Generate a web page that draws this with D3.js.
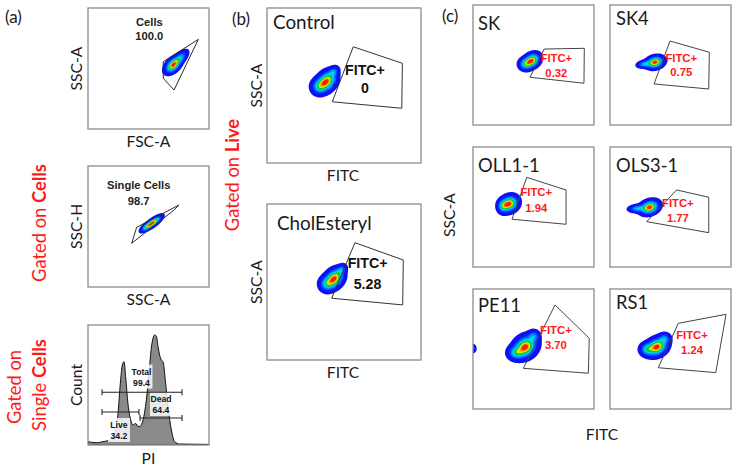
<!DOCTYPE html>
<html><head><meta charset="utf-8">
<script src="https://cdn.jsdelivr.net/npm/d3@7"></script>
<style>body{margin:0;background:#fff}svg{display:block}</style>
</head><body>
<svg id="chart" width="734" height="468"></svg>
<script>
// ====================== DATA ======================
const panelLetters = ["(a)", "(b)", "(c)"];

// (a) gating hierarchy — scatter plots (axis units 0..100)
const gatingNames  = ["Cells", "Single Cells"];
const gatingValues = ["100.0", "98.7"];
const gatingXLabels = ["FSC-A", "SSC-A"];
const gatingYLabels = ["SSC-A", "SSC-H"];
const gatingGates = [
  [[91.2,74.1],[62.2,55.6],[62.2,41.9],[71.1,32.2]],
  [[36.1,36.1],[40.2,49.3],[75.2,67.8],[71.1,63.6]]
];
// population components: [cx, cy, sdAlong, sdAcross, angleDeg, weight]
const gatingPops = [
  [[70,53,4.2,2.6,45,1],[76,59,4.2,2.1,45,0.45]],
  [[53.5,53.5,4.5,1.6,37,1],[48,50,3.2,1.4,37,0.5]]
];
const gatingLabelAt = [[50.7,85.1,73.8],[41.9,80.7,68]];

// (a) PI histogram
const piValues  = [0,6.9,12.4,17.9,22,24.8,26.7,28.4,29.8,31.1,33,35.3,37.2,39.4,41.3,43.3,45.5,48.2,50.4,52.3,53.7,55.1,56.5,57.9,59.2,60.6,62,63.9,66.1,68.9,71.6,75.8,100];
const piCounts  = [2.8,1.9,2.8,4.2,9.7,26,51,66.7,69.4,57,34.7,20.8,16.7,18,15.3,15.8,20.8,37.5,59.7,80.6,88.9,91.7,90.8,81.9,75,70.8,69.4,54,32,12.5,2.8,0.8,0.5];
const histGateNames  = ["Total", "Dead", "Live"];
const histGateValues = ["99.4", "64.4", "34.2"];
const histGateRanges = [[11.6,77.7],[43,77.7],[11.6,42.1]];
const histGateLevels = [44, 22.5, 27.5];
const histLabelAt    = [[44.2,57],[60.3,34.2],[25.6,12.5]];

// (b) Control vs CholEsteryl
const bSamples = ["Control", "CholEsteryl"];
const bFitcPos = ["0", "5.28"];
const bGates = [
  [[56.0,75.0],[87.9,64.3],[87.5,35.3],[42.4,39.5]],
  [[57.1,75.2],[88.5,64.1],[88.1,35.3],[42.0,39.6]]
];
const bPops = [
  [[38.5,53,3.9,3.0,50,1],[33.5,49.5,2.8,2.8,0,0.5],[43,59,2.2,1.7,50,0.35]],
  [[43.5,52.5,3.7,2.9,50,1],[38.5,49,2.7,2.7,0,0.5],[48,58,2.2,1.6,50,0.35]]
];
const bLabelAt = [[63.6,57,45.2],[65.3,58.8,45.5]];

// (c) strains
const cSamples = ["SK", "SK4", "OLL1-1", "OLS3-1", "PE11", "RS1"];
const cFitcPos = ["0.32", "0.75", "1.94", "1.77", "3.70", "1.24"];
const cGates = [
  [[58.9,63.3],[92.0,63.9],[91.7,34.8],[47.1,39.8]],
  [[49.6,70],[82.1,60.6],[81.6,30],[36.4,34.2]],
  [[44.4,74.7],[76.9,64.2],[76.9,35.6],[32.2,39.8]],
  [[55.1,64.2],[81.6,58.1],[81.6,28.6],[30.3,37.8]],
  [[67.8,86.7],[96.1,58.9],[95.3,29.8],[41.6,33.9]],
  [[56.4,71.4],[95.9,78.9],[87.4,30.3],[39.9,34.4]]
];
const cPops = [
  [[48.5,54,3.9,3.0,35,1],[43,51,3.0,2.8,0,0.55]],
  [[37,52.5,3.9,2.7,15,1],[28,51,3.2,1.6,10,0.45]],
  [[30,53,4.1,3.5,35,1],[24.5,51,2.6,3.2,0,0.5]],
  [[32.5,50,4.3,3.0,20,1],[22,49,3.7,1.7,5,0.45]],
  [[43,52,5.5,4.5,40,1],[35,47,3.7,3.2,0,0.45],[50,61,2.7,2.7,0,0.35],[0,50.6,1.3,1.8,0,0.3]],
  [[38.5,52,4.9,3.8,30,1],[30,50,3.2,3.0,0,0.45],[45,59,2.7,2.5,0,0.35]]
];
const cLabelAt = [[68.9,52.2,40.3],[58.9,52.8,40.8],[52.3,59.4,46.1],[56.1,50.3,37.8],[68.5,62.2,49.7],[67.8,58.3,45.8]];

// side notes
const sideNotes = [["Gated on ", "Cells"], ["Gated on ", "Live"]];
const sideNoteTwoLine = ["Gated on", "Single ", "Cells"];

// density colour levels (fraction of peak)
const densityLevels = [0.03, 0.2, 0.32, 0.45, 0.58, 0.72, 0.82, 0.9];
const densityColors = ["#1010f5", "#0050ff", "#0096ff", "#00d6e6", "#00cc33", "#d4f000", "#ffa000", "#ff1a00"];

// ====================== LAYOUT ======================
const svg = d3.select("#chart");
const SANS = "Lato, 'Open Sans', sans-serif";
const ARIAL = "'Liberation Sans', Arial, sans-serif";

// Calibri-like sizing factor
const probe = svg.append("text").attr("font-family", SANS).attr("font-size", 100).text("SSC-A Control Count");
const kf = 825.8 / probe.node().getComputedTextLength();
probe.remove();
const fs = s => (s * kf * 1.03).toFixed(2);

const boxesA = [{x:88,y:8,w:121,h:121},{x:88,y:166,w:121,h:121},{x:88,y:325,w:121,h:120}];
const boxesB = [{x:267,y:8,w:154,h:155},{x:267,y:204,w:154,h:156}];
const boxesC = [{x:473,y:5},{x:610,y:5},{x:473,y:147},{x:610,y:147},{x:473,y:289},{x:610,y:289}].map(b=>({...b,w:121,h:120}));

let clipN = 0;
function frame(b) {
  const id = "clip" + (clipN++);
  svg.append("clipPath").attr("id", id).append("rect").attr("x", b.x).attr("y", b.y).attr("width", b.w).attr("height", b.h);
  const g = svg.append("g");
  const inner = g.append("g").attr("clip-path", `url(#${id})`);
  const x = d3.scaleLinear().domain([0,100]).range([b.x, b.x + b.w]);
  const y = d3.scaleLinear().domain([0,100]).range([b.y + b.h, b.y]);
  return {g, inner, x, y, b};
}
function border(f) {
  f.g.append("rect").attr("x", f.b.x).attr("y", f.b.y).attr("width", f.b.w).attr("height", f.b.h)
    .attr("fill", "none").attr("stroke", "#8c8c8c").attr("stroke-width", 1.3);
}
function population(f, comps) {
  const step = 0.5, x0 = -10, x1 = 110, y0 = -10, y1 = 110;
  const nx = Math.round((x1 - x0) / step), ny = Math.round((y1 - y0) / step);
  const vals = new Float64Array(nx * ny);
  const pre = comps.map(([cx, cy, sx, sy, a, w]) => { const r = a * Math.PI / 180; return {cx, cy, sx, sy, c: Math.cos(r), s: Math.sin(r), w}; });
  let max = 0;
  for (let j = 0; j < ny; j++) {
    const yy = y1 - j * step;
    for (let i = 0; i < nx; i++) {
      const xx = x0 + i * step;
      let v = 0;
      for (const p of pre) {
        const dx = xx - p.cx, dy = yy - p.cy;
        const u = (dx * p.c + dy * p.s) / p.sx, t = (-dx * p.s + dy * p.c) / p.sy;
        v += p.w * Math.exp(-0.5 * (u * u + t * t));
      }
      vals[j * nx + i] = v;
      if (v > max) max = v;
    }
  }
  const contours = d3.contours().size([nx, ny]).thresholds(densityLevels.map(l => l * max))(vals);
  const proj = d3.geoTransform({ point(px, py) { this.stream.point(f.x(x0 + px * step), f.y(y1 - py * step)); } });
  const path = d3.geoPath(proj);
  f.inner.append("g").selectAll("path").data(contours).join("path")
    .attr("d", path).attr("fill", (d, i) => densityColors[i]);
}
function gate(f, pts, color) {
  f.inner.append("path").datum(pts)
    .attr("d", d3.line().x(d => f.x(d[0])).y(d => f.y(d[1])).curve(d3.curveLinearClosed))
    .attr("fill", "none").attr("stroke", color || "#333").attr("stroke-width", 1);
}
function gateLabel(f, at, name, value, size, color) {
  [name, value].forEach((t, i) => {
    f.g.append("text").attr("x", f.x(at[0])).attr("y", f.y(at[1 + i]))
      .attr("text-anchor", "middle").attr("font-family", ARIAL).attr("font-weight", "bold")
      .attr("font-size", size).attr("fill", color).text(t);
  });
}
function text(x, y, t, size, opts = {}) {
  const el = svg.append("text").attr("x", x).attr("y", y).attr("font-family", SANS)
    .attr("font-size", fs(size)).attr("fill", opts.fill || "#1a1a1a")
    .attr("text-anchor", opts.anchor || "start").text(t);
  if (opts.rotate) el.attr("transform", `rotate(-90,${x},${y})`);
  return el;
}

// ---------- Panel letters ----------
text(5, 23, panelLetters[0], 18.5);
text(232, 25, panelLetters[1], 18.5);
text(442, 22, panelLetters[2], 18.5);

// ---------- Panel (a) scatter ----------
gatingNames.forEach((name, i) => {
  const f = frame(boxesA[i]);
  population(f, gatingPops[i]);
  gate(f, gatingGates[i], "#2a2a2a");
  border(f);
  gateLabel(f, gatingLabelAt[i], name, gatingValues[i], 11.2, "#222");
  text(f.b.x + f.b.w / 2, f.b.y + f.b.h + 18, gatingXLabels[i], 17, {anchor: "middle"});
  text(f.b.x - 6, f.b.y + f.b.h / 2, gatingYLabels[i], 17, {anchor: "middle", rotate: true});
});

// ---------- Panel (a) histogram ----------
{
  const f = frame(boxesA[2]);
  const area = d3.area().x((d, i) => f.x(piValues[i])).y0(f.y(0)).y1(d => f.y(d)).curve(d3.curveMonotoneX);
  f.inner.append("path").datum(piCounts).attr("d", area).attr("fill", "#8a8a8a").attr("stroke", "#111").attr("stroke-width", 1);
  histGateNames.forEach((n, i) => {
    const at = histLabelAt[i];
    const cx = f.x(at[0]), cy = f.y(at[1]);
    f.inner.append("rect").attr("x", cx - 11).attr("y", cy - 12).attr("width", 22).attr("height", 24)
      .attr("fill", "#fff").attr("opacity", 0.82);
    [n, histGateValues[i]].forEach((t, k) => {
      f.g.append("text").attr("x", cx).attr("y", cy - 2 + k * 11).attr("text-anchor", "middle")
        .attr("font-family", ARIAL).attr("font-weight", "bold").attr("font-size", 8.6).attr("fill", "#111").text(t);
    });
  });
  histGateRanges.forEach((r, i) => {
    const yy = f.y(histGateLevels[i]);
    const gg = f.g.append("g").attr("stroke", "#222").attr("stroke-width", 1.1);
    gg.append("line").attr("x1", f.x(r[0])).attr("x2", f.x(r[1])).attr("y1", yy).attr("y2", yy);
    r.forEach(v => gg.append("line").attr("x1", f.x(v)).attr("x2", f.x(v)).attr("y1", yy - 3).attr("y2", yy + 3));
  });
  border(f);
  text(f.b.x + f.b.w / 2, f.b.y + f.b.h + 19, "PI", 17, {anchor: "middle"});
  text(f.b.x - 6, f.b.y + f.b.h / 2, "Count", 17, {anchor: "middle", rotate: true});
}

// ---------- side notes ----------
function sideNote(x, y, parts) {
  const t = svg.append("text").attr("x", x).attr("y", y).attr("font-family", SANS).attr("font-size", fs(20))
    .attr("fill", "#ff1a1a").attr("text-anchor", "middle").attr("transform", `rotate(-90,${x},${y})`);
  parts.forEach((p, i) => t.append("tspan").attr("font-weight", i === parts.length - 1 && parts.length > 1 ? "bold" : null).text(p));
}
sideNote(46, 223, sideNotes[0]);
sideNote(21, 387, [sideNoteTwoLine[0]]);
sideNote(46, 385, [sideNoteTwoLine[1], sideNoteTwoLine[2]]);
sideNote(239, 175, sideNotes[1]);

// ---------- Panel (b) ----------
const bTitleOff = [[6, 21], [10, 26]];
bSamples.forEach((s, i) => {
  const f = frame(boxesB[i]);
  population(f, bPops[i]);
  gate(f, bGates[i], "#333");
  border(f);
  gateLabel(f, bLabelAt[i], "FITC+", bFitcPos[i], 14.2, "#111");
  text(f.b.x + bTitleOff[i][0], f.b.y + bTitleOff[i][1], s, 20.5);
  text(f.b.x + f.b.w / 2 - 1, f.b.y + f.b.h + 17.5, "FITC", 17, {anchor: "middle"});
  text(f.b.x - 5, f.b.y + f.b.h / 2, "SSC-A", 17, {anchor: "middle", rotate: true});
});

// ---------- Panel (c) ----------
const cTitleOff = [[5, 25], [6, 20], [5, 25], [6, 25], [5, 23], [6, 20]];
cSamples.forEach((s, i) => {
  const f = frame(boxesC[i]);
  population(f, cPops[i]);
  gate(f, cGates[i], "#444");
  border(f);
  gateLabel(f, cLabelAt[i], "FITC+", cFitcPos[i], 11.3, "#ff1a1a");
  text(f.b.x + cTitleOff[i][0], f.b.y + cTitleOff[i][1], s, 20);
});
text(602, 440, "FITC", 17, {anchor: "middle"});
text(455, 215, "SSC-A", 17, {anchor: "middle", rotate: true});
</script>
</body></html>
